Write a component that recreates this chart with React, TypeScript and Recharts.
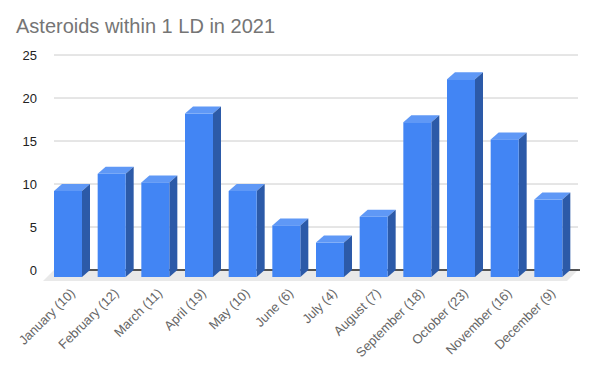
import { BarChart, Bar, XAxis, YAxis, CartesianGrid, ReferenceArea } from "recharts";

const months = [
  "January (10)",
  "February (12)",
  "March (11)",
  "April (19)",
  "May (10)",
  "June (6)",
  "July (4)",
  "August (7)",
  "September (18)",
  "October (23)",
  "November (16)",
  "December (9)",
];
const asteroids = [10, 12, 11, 19, 10, 6, 4, 7, 18, 23, 16, 9];
const yTicks = [0, 5, 10, 15, 20, 25];

const data = months.map((m, i) => ({ month: m, count: asteroids[i] }));

// depth of the fake 3d effect (front face is shifted left / down)
const DX = 8;
const DY = 7;

function Bar3D(props: any) {
  const { x, y, width, height } = props;
  if (!height) return null;
  const bottom = y + height;
  return (
    <g>
      <polygon
        points={`${x - DX},${y + DY} ${x},${y} ${x + width},${y} ${x + width - DX},${y + DY}`}
        fill="#5f98f6"
      />
      <polygon
        points={`${x + width - DX},${y + DY} ${x + width},${y} ${x + width},${bottom} ${x + width - DX},${bottom + DY}`}
        fill="#2c5aa8"
      />
      <rect x={x - DX} y={y + DY} width={width} height={height} fill="#4285f4" />
    </g>
  );
}

// floor under the bars plus the baseline, drawn behind the bars
function Floor(props: any) {
  const { x, y, width, height } = props;
  const b = y + height;
  return (
    <g>
      <polygon
        points={`${x},${b} ${x + width},${b} ${x + width - 11},${b + 11} ${x - 11},${b + 11}`}
        fill="#e9e9e9"
      />
      <line x1={x} y1={b} x2={x + width + 2} y2={b} stroke="#222" strokeWidth={1.5} />
    </g>
  );
}

function MonthTick(props: any) {
  const { x, y, payload } = props;
  const ax = x;
  const ay = y + 22;
  return (
    <text
      x={ax}
      y={ay}
      transform={`rotate(-45, ${ax}, ${ay})`}
      textAnchor="end"
      fontSize={13}
      fill="#666666"
      fontFamily="'Liberation Sans', Arial, sans-serif"
    >
      {payload.value}
    </text>
  );
}

export default function App() {
  return (
    <div
      style={{
        position: "absolute",
        left: 0,
        top: 0,
        width: 596,
        height: 367,
        background: "#fff",
        fontFamily: "'Liberation Sans', Arial, sans-serif",
      }}
    >
      <div
        style={{
          position: "absolute",
          left: 16,
          top: 14,
          fontSize: 20,
          color: "#757575",
          lineHeight: "24px",
        }}
      >
        Asteroids within 1 LD in 2021
      </div>
      <BarChart
        width={596}
        height={367}
        data={data}
        margin={{ top: 55, right: 18, bottom: 0, left: 0 }}
      >
        <CartesianGrid horizontal vertical={false} stroke="#cccccc" />
        <ReferenceArea y1={0} y2={0.01} shape={<Floor />} ifOverflow="visible" />
        <XAxis
          dataKey="month"
          interval={0}
          height={97}
          tickSize={0}
          tickLine={false}
          axisLine={false}
          tick={<MonthTick />}
        />
        <YAxis
          domain={[0, 25]}
          ticks={yTicks}
          width={54}
          tickSize={0}
          tickMargin={17}
          tickLine={false}
          axisLine={false}
          tick={{ fontSize: 13, fill: "#222" }}
        />
        <Bar dataKey="count" barSize={28} shape={<Bar3D />} isAnimationActive={false} />
      </BarChart>
    </div>
  );
}
